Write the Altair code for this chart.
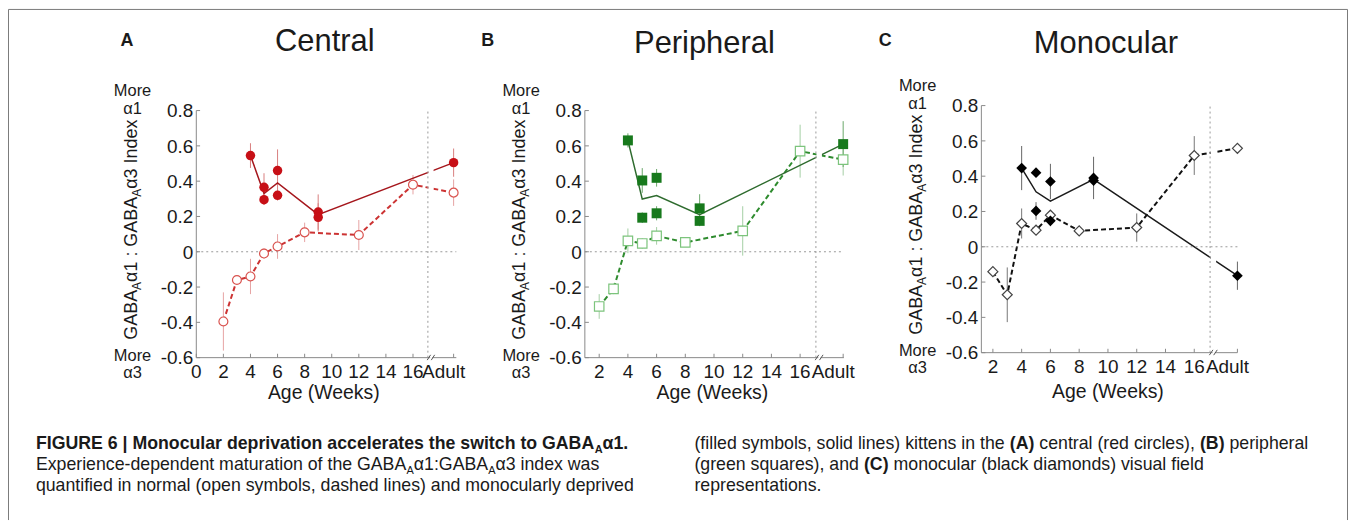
import altair as alt
import pandas as pd

# ------------------------------------------------------------------ data
normal_weeks = [2, 3, 4, 5, 6, 8, 12, 16, 19]      # 19 = "Adult"
deprived_weeks = [4, 5, 5, 6, 6, 9, 9, 19]

central_normal = [-0.395, -0.16, -0.14, -0.01, 0.03, 0.11, 0.095, 0.38, 0.335]
central_normal_err = [0.165, 0.02, 0.10, 0.03, 0.07, 0.055, 0.085, 0.055, 0.075]
central_deprived = [0.545, 0.365, 0.295, 0.46, 0.32, 0.225, 0.195, 0.505]
central_deprived_err = [0.07, 0.08, 0.03, 0.12, 0.03, 0.10, 0.08, 0.08]

peripheral_normal = [-0.31, -0.21, 0.062, 0.047, 0.09, 0.053, 0.118, 0.57, 0.522]
peripheral_normal_err = [0.07, 0.03, 0.07, 0.03, 0.05, 0.02, 0.14, 0.15, 0.09]
peripheral_deprived = [0.631, 0.404, 0.193, 0.419, 0.218, 0.246, 0.175, 0.61]
peripheral_deprived_err = [0.04, 0.07, 0.03, 0.05, 0.04, 0.08, 0.03, 0.13]

monocular_normal = [-0.141, -0.272, 0.132, 0.094, 0.179, 0.09, 0.109, 0.517, 0.558]
monocular_normal_err = [0.01, 0.155, 0.085, 0.02, 0.02, 0.01, 0.08, 0.11, 0.01]
monocular_deprived = [0.446, 0.42, 0.203, 0.37, 0.147, 0.39, 0.375, -0.164]
monocular_deprived_err = [0.125, 0.02, 0.05, 0.10, 0.03, 0.12, 0.02, 0.08]

x_ticks_central = [0, 2, 4, 6, 8, 10, 12, 14, 16, 19]
x_labels_central = ["0", "2", "4", "6", "8", "10", "12", "14", "16", "Adult"]
x_ticks_other = [2, 4, 6, 8, 10, 12, 14, 16, 19]
x_labels_other = ["2", "4", "6", "8", "10", "12", "14", "16", "Adult"]
y_ticks = [-0.6, -0.4, -0.2, 0, 0.2, 0.4, 0.6, 0.8]
y_labels = ["-0.6", "-0.4", "-0.2", "0", "0.2", "0.4", "0.6", "0.8"]
adult_week = 19
break_week = 17.1

# ------------------------------------------------------------------ layout / style
W, H = 1345, 513
FONT = "Liberation Sans, Arial, Helvetica, sans-serif"
AXIS_COL = "#8a8a8a"
TXT = "#1a1a1a"

panels = [
    dict(letter="A", title="Central", xdom=[0, 19.2], x0=197, x1=458, top=110, bot=358,
         ticks=x_ticks_central, labels=x_labels_central, letter_x=121, title_cx=326, title_base=50,
         age_cx=325, age_base=399, shape="circle", size_f=90, size_o=80,
         fill="#c70f16", dline="#a5161c", ostroke="#d9534f", nline="#cc3333",
         nerr="#e6a3a3", derr="#d98080",
         data=(central_normal, central_normal_err, central_deprived, central_deprived_err)),
    dict(letter="B", title="Peripheral", xdom=[1, 19.05], x0=587, x1=847, top=110, bot=358,
         ticks=x_ticks_other, labels=x_labels_other, letter_x=483, title_cx=707, title_base=52,
         age_cx=715, age_base=400, shape="square", size_f=100, size_o=90,
         fill="#17791c", dline="#2e6b2e", ostroke="#7cc47c", nline="#2e8b2e",
         nerr="#a5cfa5", derr="#6aa86a",
         data=(peripheral_normal, peripheral_normal_err, peripheral_deprived, peripheral_deprived_err)),
    dict(letter="C", title="Monocular", xdom=[1.2, 19.0], x0=985, x1=1242, top=105, bot=353,
         ticks=x_ticks_other, labels=x_labels_other, letter_x=882, title_cx=1110, title_base=52,
         age_cx=1112, age_base=398, shape="diamond", size_f=115, size_o=100,
         fill="#000000", dline="#1a1a1a", ostroke="#444444", nline="#111111",
         nerr="#777777", derr="#666666",
         data=(monocular_normal, monocular_normal_err, monocular_deprived, monocular_deprived_err)),
]

W_REG = {' ': 278, '(': 333, ')': 333, ',': 278, '-': 333, '.': 278, ':': 278, '|': 260,
         'A': 667, 'B': 667, 'C': 722, 'D': 722, 'E': 667, 'F': 611, 'G': 778, 'H': 722,
         'I': 278, 'J': 500, 'K': 667, 'L': 556, 'M': 833, 'N': 722, 'O': 778, 'P': 667,
         'Q': 778, 'R': 722, 'S': 667, 'T': 611, 'U': 722, 'V': 667, 'W': 944, 'X': 667,
         'Y': 667, 'Z': 611, 'a': 556, 'b': 556, 'c': 500, 'd': 556, 'e': 556, 'f': 278,
         'g': 556, 'h': 556, 'i': 222, 'j': 222, 'k': 500, 'l': 222, 'm': 833, 'n': 556,
         'o': 556, 'p': 556, 'q': 556, 'r': 333, 's': 500, 't': 278, 'u': 556, 'v': 500,
         'w': 722, 'x': 500, 'y': 500, 'z': 500, 'α': 579}
W_BOLD = {' ': 278, '(': 333, ')': 333, ',': 278, '-': 333, '.': 278, ':': 333, '|': 280,
          'A': 722, 'B': 722, 'C': 722, 'D': 722, 'E': 667, 'F': 611, 'G': 778, 'H': 722,
          'I': 278, 'J': 556, 'K': 722, 'L': 611, 'M': 833, 'N': 722, 'O': 778, 'P': 667,
          'Q': 778, 'R': 722, 'S': 667, 'T': 611, 'U': 722, 'V': 667, 'W': 944, 'X': 667,
          'Y': 667, 'Z': 611, 'a': 556, 'b': 611, 'c': 556, 'd': 611, 'e': 556, 'f': 333,
          'g': 611, 'h': 611, 'i': 278, 'j': 278, 'k': 556, 'l': 278, 'm': 889, 'n': 611,
          'o': 611, 'p': 611, 'q': 611, 'r': 389, 's': 556, 't': 333, 'u': 611, 'v': 556,
          'w': 778, 'x': 556, 'y': 556, 'z': 500, 'α': 610}


def tw(s, size, bold=False):
    t = W_BOLD if bold else W_REG
    return sum(t.get(ch, 556) for ch in s) * size / 1000.0


def panel_chart(p):
    normal, normal_err, deprived, deprived_err = p["data"]
    xs = alt.Scale(domain=p["xdom"], range=[p["x0"] - 8, p["x1"] - 8], nice=False, zero=False)
    ys = alt.Scale(domain=[-0.6, 0.8], range=[p["bot"] - 8, p["top"] - 8], nice=False, zero=False)

    def X(f):
        return alt.X(f, type="quantitative", scale=xs, axis=None)

    def Y(f, agg=None):
        if agg:
            return alt.Y(f, type="quantitative", aggregate=agg, scale=ys, axis=None)
        return alt.Y(f, type="quantitative", scale=ys, axis=None)

    norm = pd.DataFrame({"w": normal_weeks, "v": normal, "e": normal_err})
    dep = pd.DataFrame({"w": deprived_weeks, "v": deprived, "e": deprived_err})
    x0, x1 = p["xdom"]

    # axis lines (drawn through the panel scales)
    xdom_line = alt.Chart(pd.DataFrame({"w": [x0], "w2": [x1], "v": [-0.6]})) \
        .mark_rule(color=AXIS_COL, strokeWidth=1).encode(x=X("w"), x2="w2:Q", y=Y("v"))
    ydom_line = alt.Chart(pd.DataFrame({"w": [x0], "v": [-0.6], "v2": [0.8]})) \
        .mark_rule(color=AXIS_COL, strokeWidth=1).encode(x=X("w"), y=Y("v"), y2="v2:Q")

    err_n = alt.Chart(norm).transform_calculate(lo="datum.v - datum.e", hi="datum.v + datum.e") \
        .mark_rule(color=p["nerr"], strokeWidth=1).encode(x=X("w"), y=Y("lo"), y2="hi:Q")
    err_d = alt.Chart(dep).transform_calculate(lo="datum.v - datum.e", hi="datum.v + datum.e") \
        .mark_rule(color=p["derr"], strokeWidth=1).encode(x=X("w"), y=Y("lo"), y2="hi:Q")

    line_n = alt.Chart(norm).mark_line(color=p["nline"], strokeWidth=2, strokeDash=[5, 3]) \
        .encode(x=X("w"), y=Y("v"))
    line_d = alt.Chart(dep).mark_line(color=p["dline"], strokeWidth=1.5) \
        .encode(x=X("w"), y=Y("v", agg="mean"))

    gap = alt.Chart(pd.DataFrame({"w": [break_week + 0.04], "w2": [break_week + 0.42],
                                  "v": [-0.575], "v2": [0.8]})) \
        .mark_rect(color="white").encode(x=X("w"), x2="w2:Q", y=Y("v"), y2="v2:Q")

    zero = alt.Chart(pd.DataFrame({"w": [x0], "w2": [x1], "v": [0.0]})) \
        .mark_rule(color="#9a9a9a", strokeDash=[2, 3], strokeWidth=1) \
        .encode(x=X("w"), x2="w2:Q", y=Y("v"))

    vline = alt.Chart(pd.DataFrame({"w": [break_week], "v": [-0.6], "v2": [0.8]})) \
        .mark_rule(color="#9a9a9a", strokeDash=[2, 3], strokeWidth=1) \
        .encode(x=X("w"), y=Y("v"), y2="v2:Q")

    pts_n = alt.Chart(norm).mark_point(shape=p["shape"], size=p["size_o"], filled=True,
                                       fill="white", stroke=p["ostroke"], strokeWidth=1.2,
                                       opacity=1).encode(x=X("w"), y=Y("v"))
    pts_d = alt.Chart(dep).mark_point(shape=p["shape"], size=p["size_f"], filled=True,
                                      color=p["fill"], opacity=1).encode(x=X("w"), y=Y("v"))

    ytk = alt.Chart(pd.DataFrame({"w": [x0] * len(y_ticks), "w2": [x0 + 0.28] * len(y_ticks),
                                  "v": y_ticks})) \
        .mark_rule(color=AXIS_COL, strokeWidth=1).encode(x=X("w"), x2="w2:Q", y=Y("v"))
    xtk = alt.Chart(pd.DataFrame({"w": p["ticks"], "v": [-0.6] * len(p["ticks"]),
                                  "v2": [-0.578] * len(p["ticks"])})) \
        .mark_rule(color=AXIS_COL, strokeWidth=1).encode(x=X("w"), y=Y("v"), y2="v2:Q")

    brk_bg = alt.Chart(pd.DataFrame({"w": [break_week + 0.17], "w2": [break_week + 0.33],
                                     "v": [-0.612], "v2": [-0.588]})) \
        .mark_rect(color="white").encode(x=X("w"), x2="w2:Q", y=Y("v"), y2="v2:Q")
    brk = alt.Chart(pd.DataFrame({"w": [break_week - 0.05, break_week + 0.25],
                                  "w2": [break_week + 0.2, break_week + 0.5],
                                  "v": [-0.614, -0.614], "v2": [-0.584, -0.584]})) \
        .mark_rule(color="#555555", strokeWidth=1) \
        .encode(x=X("w"), x2="w2:Q", y=Y("v"), y2="v2:Q")

    # tick labels, placed through the same scales
    xl_df = pd.DataFrame({"w": p["ticks"], "v": [-0.6] * len(p["ticks"]), "t": p["labels"]})
    xlab = alt.Chart(xl_df[xl_df["t"] != "Adult"]).mark_text(
        font=FONT, fontSize=19, color=TXT, align="center", baseline="alphabetic", dy=20) \
        .encode(x=X("w"), y=Y("v"), text="t:N")
    xlab_adult = alt.Chart(xl_df[xl_df["t"] == "Adult"]).mark_text(
        font=FONT, fontSize=19, color=TXT, align="center", baseline="alphabetic", dy=20, dx=-10) \
        .encode(x=X("w"), y=Y("v"), text="t:N")
    yl_df = pd.DataFrame({"w": [x0] * len(y_ticks), "v": y_ticks, "t": y_labels})
    ylab = alt.Chart(yl_df).mark_text(
        font=FONT, fontSize=19, color=TXT, align="right", baseline="alphabetic", dx=-3, dy=6.8) \
        .encode(x=X("w"), y=Y("v"), text="t:N")

    return alt.layer(xdom_line, ydom_line, err_n, err_d, line_n, line_d, gap, zero, vline,
                     pts_n, pts_d, ytk, xtk, brk_bg, brk, xlab, xlab_adult, ylab)


# ------------------------------------------------------------------ text annotations
groups = {}


def add(key, px, py, t):
    groups.setdefault(key, []).append((px - 8, py - 8, t))


for p in panels:
    add(("letter",), p["letter_x"], 45, p["letter"])
    add(("title",), p["title_cx"], p["title_base"], p["title"])
    add(("age",), p["age_cx"], p["age_base"], "Age (Weeks)")
    mx = p["x0"] - 64
    add(("more",), mx, p["top"] - 15, "More")
    add(("more",), mx, p["top"] + 3, "α1")
    add(("more",), mx, p["bot"] + 3, "More")
    add(("more",), mx, p["bot"] + 20, "α3")
    bx = p["x0"] - 60
    cy = p["bot"] - 18
    for txt, sz, shift in [("GABA", 18, 0), ("A", 12, 4), ("α1 : GABA", 18, 0),
                           ("A", 12, 4), ("α3 Index", 18, 0)]:
        add(("ytitle", sz), bx + shift, cy, txt)
        cy -= tw(txt, sz)

CAP = 17.8
SUB = 11
CAP_L = 36
CAP_R = 697
B1, B2, B3 = 450, 471, 492
cap_lines = [
    (CAP_L, B1, [("FIGURE 6 | Monocular deprivation accelerates the switch to GABA", "b"),
                 ("A", "sb"), ("α1.", "b")]),
    (CAP_L, B2, [("Experience-dependent maturation of the GABA", "r"), ("A", "sr"),
                 ("α1:GABA", "r"), ("A", "sr"), ("α3 index was", "r")]),
    (CAP_L, B3, [("quantified in normal (open symbols, dashed lines) and monocularly deprived", "r")]),
    (CAP_R, B1, [("(filled symbols, solid lines) kittens in the ", "r"), ("(A)", "b"),
                 (" central (red circles), ", "r"), ("(B)", "b"), (" peripheral", "r")]),
    (CAP_R, B2, [("(green squares), and ", "r"), ("(C)", "b"),
                 (" monocular (black diamonds) visual field", "r")]),
    (CAP_R, B3, [("representations.", "r")]),
]
for x_start, base, segs in cap_lines:
    cx = x_start
    for txt, st in segs:
        bold = "b" in st
        sub = st.startswith("s")
        sz = SUB if sub else CAP
        lead = len(txt) - len(txt.lstrip(" "))
        add(("cap", st), cx + tw(" " * lead, sz, bold), base + (4 if sub else 0), txt.strip())
        cx += tw(txt, sz, bold)


def text_layer(rows, size, weight="normal", angle=0, align="left"):
    df = pd.DataFrame(rows, columns=["px", "py", "t"])
    return alt.Chart(df).mark_text(font=FONT, fontSize=size, fontWeight=weight, angle=angle,
                                   align=align, baseline="alphabetic", color=TXT) \
        .encode(x=alt.X("px:Q", scale=None, axis=None),
                y=alt.Y("py:Q", scale=None, axis=None), text="t:N")


text_layers = [
    text_layer(groups[("letter",)], 18, weight="bold"),
    text_layer(groups[("title",)], 31, align="center"),
    text_layer(groups[("age",)], 19.5, align="center"),
    text_layer(groups[("more",)], 16.5, align="center"),
    text_layer(groups[("ytitle", 18)], 18, angle=270),
    text_layer(groups[("ytitle", 12)], 12, angle=270),
    text_layer(groups[("cap", "b")], CAP, weight="bold"),
    text_layer(groups[("cap", "r")], CAP),
    text_layer(groups[("cap", "sb")], SUB, weight="bold"),
    text_layer(groups[("cap", "sr")], SUB),
]

one = pd.DataFrame({"a": [0]})
FR = "#7a7a7a"
frame = [
    alt.Chart(one).mark_rule(color=FR, strokeWidth=1).encode(
        x=alt.value(0.5), x2=alt.value(W - 0.5), y=alt.value(0.5)),
    alt.Chart(one).mark_rule(color=FR, strokeWidth=1).encode(
        x=alt.value(0.5), y=alt.value(0.5), y2=alt.value(H)),
    alt.Chart(one).mark_rule(color=FR, strokeWidth=1).encode(
        x=alt.value(W - 0.5), y=alt.value(0.5), y2=alt.value(H)),
]

chart = alt.layer(*[panel_chart(p) for p in panels], *text_layers, *frame) \
    .resolve_scale(x="independent", y="independent") \
    .properties(width=W, height=H, padding=0, background="white",
                autosize=alt.AutoSizeParams(type="none")) \
    .configure_view(stroke=None)

chart.save("out.html", embed_options={"renderer": "svg", "actions": False})
